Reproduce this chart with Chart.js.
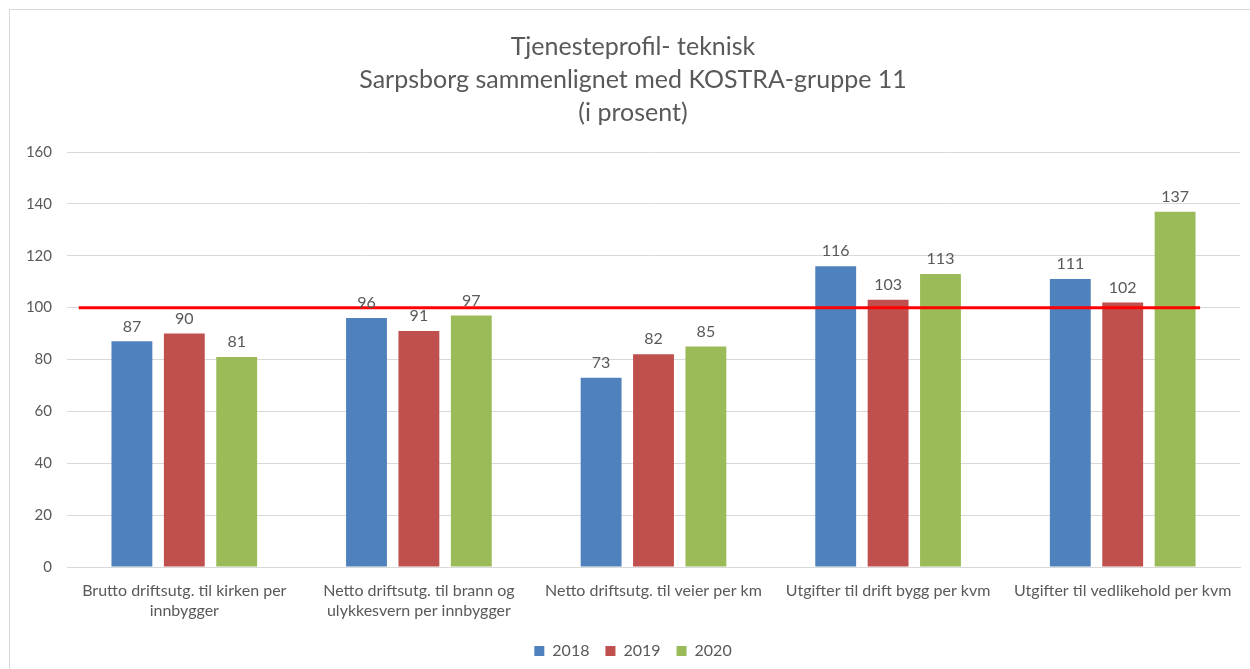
<!DOCTYPE html>
<html>
<head>
<meta charset="utf-8">
<script src="https://cdn.jsdelivr.net/npm/chart.js@4/dist/chart.umd.min.js"></script>
<style>
  html, body { margin: 0; padding: 0; background: #fff; overflow: hidden; }
  #wrap { position: absolute; left: 9px; top: 9px; width: 1250px; height: 670px;
          border: 1px solid #d9d9d9; box-sizing: border-box; }
  canvas { display: block; }
</style>
</head>
<body>
<div id="wrap"><canvas id="chart" width="1248" height="668"></canvas></div>
<script>

const titleLines = [
    "Tjenesteprofil- teknisk",
    "Sarpsborg sammenlignet med KOSTRA-gruppe 11",
    "(i prosent)"
];

const categories = [
    ["Brutto driftsutg. til kirken per", "innbygger"],
    ["Netto driftsutg. til brann og", "ulykkesvern per innbygger"],
    "Netto driftsutg. til veier per km",
    "Utgifter til drift bygg per kvm",
    "Utgifter til vedlikehold per kvm"
];

const years = ["2018", "2019", "2020"];
const values2018 = [87, 96, 73, 116, 111];
const values2019 = [90, 91, 82, 103, 102];
const values2020 = [81, 97, 85, 113, 137];
const colors = ["#4f81bd", "#c0504d", "#9bbb59"];

const referenceValue = 100;

const textColor = "#595959";
const fontFamily = "Lato, 'Open Sans', sans-serif";

// labels over the bars
const barLabels = {
    id: "barLabels",
    afterDatasetsDraw(chart){
        const ctx = chart.ctx;
        ctx.save();
        ctx.font = "16px " + fontFamily;
        ctx.fillStyle = textColor;
        ctx.textAlign = "center";
        ctx.textBaseline = "bottom";
        chart.data.datasets.forEach((ds, i) => {
            chart.getDatasetMeta(i).data.forEach((bar, j) => {
                ctx.fillText(ds.data[j], bar.x, bar.y - 7);
            });
        });
        ctx.restore();
    }
};

// red 100-line across the categories
const referenceLine = {
    id: "referenceLine",
    afterDatasetsDraw(chart){
        const x = chart.scales.x;
        const y = chart.scales.y;
        const step = x.getPixelForValue(1) - x.getPixelForValue(0);
        const py = y.getPixelForValue(referenceValue);
        const ctx = chart.ctx;
        ctx.save();
        ctx.strokeStyle = "#ff0000";
        ctx.lineWidth = 3;
        ctx.beginPath();
        ctx.moveTo(x.getPixelForValue(0) - step * 0.45, py);
        ctx.lineTo(x.getPixelForValue(categories.length - 1) + step * 0.33, py);
        ctx.stroke();
        ctx.restore();
    }
};

new Chart(document.getElementById("chart"), {
    type: "bar",
    data: {
        labels: categories,
        datasets: [values2018, values2019, values2020].map((vals, i) => ({
            label: years[i],
            data: vals,
            backgroundColor: colors[i],
            categoryPercentage: 0.67,
            barPercentage: 0.78
        }))
    },
    options: {
        responsive: false,
        animation: false,
        layout: { padding: { left: 16, right: 18, top: 0, bottom: 9 } },
        plugins: {
            title: {
                display: true,
                text: titleLines,
                color: textColor,
                font: { family: fontFamily, size: 25, weight: "normal", lineHeight: 1.32 },
                padding: { top: 20, bottom: 23 }
            },
            legend: {
                position: "bottom",
                labels: {
                    color: textColor,
                    font: { family: fontFamily, size: 16 },
                    boxWidth: 10,
                    boxHeight: 10,
                    padding: 16
                }
            },
            tooltip: { enabled: false }
        },
        scales: {
            x: {
                grid: { display: false },
                border: { color: "#d9d9d9" },
                ticks: {
                    color: textColor,
                    font: { family: fontFamily, size: 16, lineHeight: 1.25 },
                    maxRotation: 0,
                    autoSkip: false,
                    padding: 6
                }
            },
            y: {
                min: 0,
                max: 160,
                ticks: {
                    stepSize: 20,
                    color: textColor,
                    font: { family: fontFamily, size: 15 },
                    padding: 15
                },
                grid: { color: "#d9d9d9", drawTicks: false },
                border: { display: false },
                afterFit(scale){ scale.width = 41; }
            }
        }
    },
    plugins: [referenceLine, barLabels]
});

</script>
</body>
</html>
